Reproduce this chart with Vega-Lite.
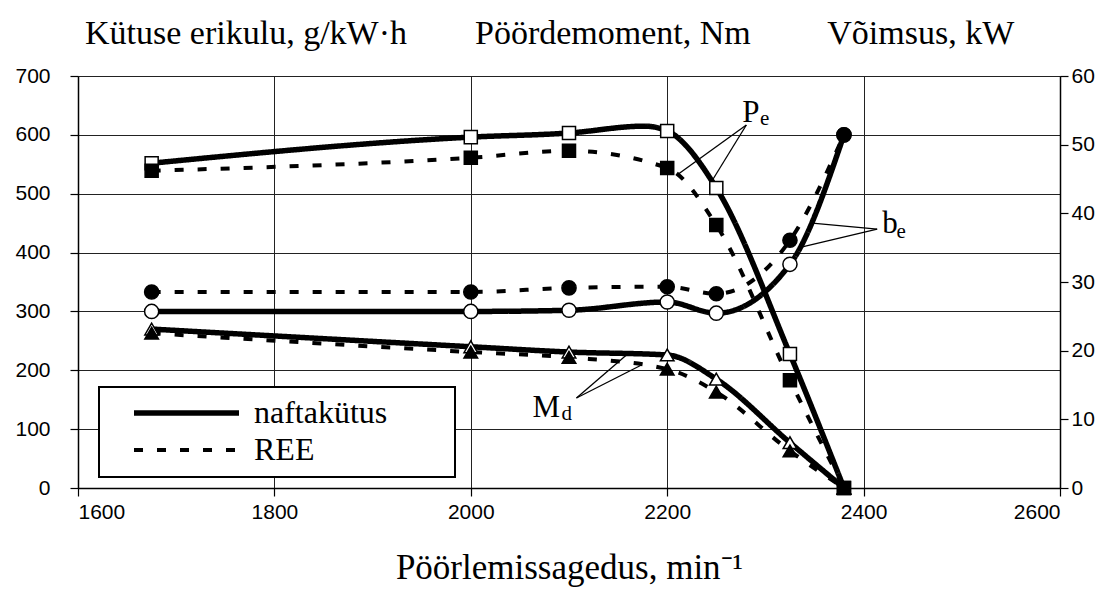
{
  "$schema": "https://vega.github.io/schema/vega-lite/v6.json",
  "width": 982,
  "height": 412,
  "autosize": {"type": "none"},
  "padding": {"left": 78, "top": 76, "right": 55, "bottom": 106},
  "background": "white",
  "config": {
    "view": {"stroke": null},
    "axis": {"domainColor": "black", "domainWidth": 1.5, "tickColor": "black", "tickWidth": 1.2, "tickSize": 8, "labelColor": "black", "labelFont": "Liberation Sans", "labelFontSize": 21, "gridColor": "#222", "gridWidth": 1, "gridOpacity": 1}
  },
  "title": {
    "text": "Kütuse erikulu, g/kW·h\u00a0\u00a0\u00a0\u00a0\u00a0\u00a0\u00a0\u00a0Pöördemoment, Nm\u00a0\u00a0\u00a0\u00a0\u00a0\u00a0\u00a0\u00a0\u00a0Võimsus, kW",
    "font": "Liberation Serif",
    "fontSize": 34,
    "fontWeight": "normal",
    "color": "black",
    "anchor": "start",
    "frame": "group",
    "dx": 7,
    "baseline": "alphabetic",
    "offset": -13
  },
  "datasets": {
    "curves": [
      {"series": "be", "fuel": "naftakütus", "x": 1675, "v": 300, "m": true},
      {"series": "be", "fuel": "naftakütus", "x": 2000, "v": 300, "m": true},
      {"series": "be", "fuel": "naftakütus", "x": 2100, "v": 302, "m": true},
      {"series": "be", "fuel": "naftakütus", "x": 2200, "v": 316, "m": true},
      {"series": "be", "fuel": "naftakütus", "x": 2250, "v": 297, "m": true},
      {"series": "be", "fuel": "naftakütus", "x": 2325, "v": 380, "m": true},
      {"series": "be", "fuel": "naftakütus", "x": 2380, "v": 600, "m": true},
      {"series": "be", "fuel": "REE", "x": 1675, "v": 333, "m": true},
      {"series": "be", "fuel": "REE", "x": 2000, "v": 333, "m": true},
      {"series": "be", "fuel": "REE", "x": 2100, "v": 340, "m": true},
      {"series": "be", "fuel": "REE", "x": 2200, "v": 342, "m": true},
      {"series": "be", "fuel": "REE", "x": 2250, "v": 330, "m": true},
      {"series": "be", "fuel": "REE", "x": 2325, "v": 421, "m": true},
      {"series": "be", "fuel": "REE", "x": 2380, "v": 600, "m": true},
      {"series": "Md", "fuel": "naftakütus", "x": 1675, "v": 270, "m": true},
      {"series": "Md", "fuel": "naftakütus", "x": 2000, "v": 240, "m": true},
      {"series": "Md", "fuel": "naftakütus", "x": 2100, "v": 231, "m": true},
      {"series": "Md", "fuel": "naftakütus", "x": 2200, "v": 226, "m": true},
      {"series": "Md", "fuel": "naftakütus", "x": 2250, "v": 185, "m": true},
      {"series": "Md", "fuel": "naftakütus", "x": 2325, "v": 77, "m": true},
      {"series": "Md", "fuel": "naftakütus", "x": 2380, "v": 0, "m": true},
      {"series": "Md", "fuel": "REE", "x": 1675, "v": 263, "m": true},
      {"series": "Md", "fuel": "REE", "x": 2000, "v": 231, "m": true},
      {"series": "Md", "fuel": "REE", "x": 2100, "v": 222, "m": true},
      {"series": "Md", "fuel": "REE", "x": 2200, "v": 202, "m": true},
      {"series": "Md", "fuel": "REE", "x": 2250, "v": 163, "m": true},
      {"series": "Md", "fuel": "REE", "x": 2325, "v": 63, "m": true},
      {"series": "Md", "fuel": "REE", "x": 2380, "v": 0, "m": true},
      {"series": "Pe", "fuel": "naftakütus", "x": 1675, "v": 47.3, "m": true},
      {"series": "Pe", "fuel": "naftakütus", "x": 2000, "v": 51.1, "m": true},
      {"series": "Pe", "fuel": "naftakütus", "x": 2100, "v": 51.7, "m": true},
      {"series": "Pe", "fuel": "naftakütus", "x": 2177, "v": 52.7, "m": false},
      {"series": "Pe", "fuel": "naftakütus", "x": 2200, "v": 52.0, "m": true},
      {"series": "Pe", "fuel": "naftakütus", "x": 2250, "v": 43.7, "m": true},
      {"series": "Pe", "fuel": "naftakütus", "x": 2325, "v": 19.5, "m": true},
      {"series": "Pe", "fuel": "naftakütus", "x": 2380, "v": 0, "m": true},
      {"series": "Pe", "fuel": "REE", "x": 1675, "v": 46.2, "m": true},
      {"series": "Pe", "fuel": "REE", "x": 2000, "v": 48.1, "m": true},
      {"series": "Pe", "fuel": "REE", "x": 2100, "v": 49.1, "m": true},
      {"series": "Pe", "fuel": "REE", "x": 2200, "v": 46.6, "m": true},
      {"series": "Pe", "fuel": "REE", "x": 2250, "v": 38.3, "m": true},
      {"series": "Pe", "fuel": "REE", "x": 2325, "v": 15.7, "m": true},
      {"series": "Pe", "fuel": "REE", "x": 2380, "v": 0, "m": true}
    ],
    "labels": [
      {"t": "P", "x": 2276.5, "v": 621.8, "fs": 31},
      {"t": "e", "x": 2294.5, "v": 616.7, "fs": 21},
      {"t": "b", "x": 2418.9, "v": 433.2, "fs": 31},
      {"t": "e", "x": 2433.5, "v": 424.7, "fs": 21},
      {"t": "M", "x": 2062.9, "v": 120.6, "fs": 31},
      {"t": "d", "x": 2092.4, "v": 115.5, "fs": 21}
    ],
    "leaders": [
      {"x": 2280.6, "v": 616.7, "x2": 2210, "v2": 531.8},
      {"x": 2280.6, "v": 616.7, "x2": 2243, "v2": 514.8},
      {"x": 2413.8, "v": 440, "x2": 2347.7, "v2": 450},
      {"x": 2413.8, "v": 440, "x2": 2336.5, "v2": 409.4},
      {"x": 2107.6, "v": 152.9, "x2": 2158.5, "v2": 226},
      {"x": 2107.6, "v": 152.9, "x2": 2173.8, "v2": 209}
    ]
  },
  "encoding": {
    "x": {
      "field": "x", "type": "quantitative",
      "scale": {"domain": [1600, 2600], "nice": false, "zero": false},
      "axis": {"values": [1600, 1800, 2000, 2200, 2400, 2600], "format": "d", "grid": true, "labelPadding": 5,
        "title": "Pöörlemissagedus, min⁻¹", "titleFont": "Liberation Serif", "titleFontSize": 35, "titleFontWeight": "normal", "titleColor": "black", "titlePadding": 28}
    }
  },
  "layer": [
    {
      "encoding": {
        "y": {"field": "v", "type": "quantitative", "scale": {"domain": [0, 700], "nice": false},
          "axis": {"values": [0, 100, 200, 300, 400, 500, 600, 700], "grid": true, "title": null, "labelPadding": 20}}
      },
      "layer": [
        {
          "data": {"name": "leaders"},
          "mark": {"type": "rule", "color": "black", "strokeWidth": 1.3},
          "encoding": {"x2": {"field": "x2"}, "y2": {"field": "v2"}}
        },
        {
          "data": {"name": "curves"},
          "transform": [{"filter": "datum.series !== 'Pe'"}],
          "mark": {"type": "line", "interpolate": "monotone", "color": "black"},
          "encoding": {
            "detail": {"field": "series"},
            "strokeDash": {"field": "fuel", "type": "nominal", "scale": {"domain": ["naftakütus", "REE"], "range": [[1, 0], [9, 14]]},
              "legend": {"orient": "none", "legendX": 21, "legendY": 311, "title": null, "fillColor": "white", "strokeColor": "black", "padding": 11,
                "symbolType": "stroke", "symbolSize": 11025, "symbolStrokeWidth": 5, "symbolStrokeColor": "black", "symbolOffset": 21, "clipHeight": 30, "rowPadding": 5,
                "labelFont": "Liberation Serif", "labelFontSize": 32, "labelColor": "black", "labelOffset": 12, "labelLimit": 400,
                "labelExpr": "datum.label + '\u00a0\u00a0\u00a0\u00a0\u00a0\u00a0\u00a0\u200b'",
                "encode": {"legend": {"update": {"strokeWidth": {"value": 2}}}, "symbols": {"update": {"strokeDash": {"signal": "datum.value === 'REE' ? [24, 20] : [1, 0]"}}}}}},
            "strokeWidth": {"field": "fuel", "type": "nominal", "scale": {"domain": ["naftakütus", "REE"], "range": [5.5, 4]}, "legend": null}
          }
        },
        {
          "data": {"name": "curves"},
          "transform": [{"filter": "datum.series !== 'Pe' && datum.m"}],
          "mark": {"type": "point", "filled": true, "stroke": "black", "strokeWidth": 1.5, "opacity": 1},
          "encoding": {
            "shape": {"field": "series", "type": "nominal", "scale": {"domain": ["be", "Md", "Pe"], "range": ["circle", "triangle-up", "square"]}, "legend": null},
            "fill": {"field": "fuel", "type": "nominal", "scale": {"domain": ["naftakütus", "REE"], "range": ["white", "black"]}, "legend": null},
            "size": {"field": "series", "type": "nominal", "scale": {"domain": ["be", "Md", "Pe"], "range": [200, 170, 225]}, "legend": null}
          }
        },
        {
          "data": {"name": "labels"},
          "mark": {"type": "text", "align": "left", "baseline": "alphabetic", "font": "Liberation Serif", "color": "black"},
          "encoding": {"text": {"field": "t"}, "size": {"field": "fs", "type": "quantitative", "scale": null}}
        }
      ]
    },
    {
      "data": {"name": "curves"},
      "encoding": {
        "y": {"field": "v", "type": "quantitative", "scale": {"domain": [0, 60], "nice": false},
          "axis": {"orient": "right", "values": [0, 10, 20, 30, 40, 50, 60], "grid": false, "title": null, "labelPadding": 3}}
      },
      "layer": [
        {
          "transform": [{"filter": "datum.series === 'Pe'"}],
          "mark": {"type": "line", "interpolate": "monotone", "color": "black"},
          "encoding": {
            "detail": {"field": "series"},
            "strokeDash": {"field": "fuel", "type": "nominal", "scale": {"domain": ["naftakütus", "REE"], "range": [[1, 0], [9, 14]]},
              "legend": {"orient": "none", "legendX": 21, "legendY": 311, "title": null, "fillColor": "white", "strokeColor": "black", "padding": 11,
                "symbolType": "stroke", "symbolSize": 11025, "symbolStrokeWidth": 5, "symbolStrokeColor": "black", "symbolOffset": 21, "clipHeight": 30, "rowPadding": 5,
                "labelFont": "Liberation Serif", "labelFontSize": 32, "labelColor": "black", "labelOffset": 12, "labelLimit": 400,
                "labelExpr": "datum.label + '\u00a0\u00a0\u00a0\u00a0\u00a0\u00a0\u00a0\u200b'",
                "encode": {"legend": {"update": {"strokeWidth": {"value": 2}}}, "symbols": {"update": {"strokeDash": {"signal": "datum.value === 'REE' ? [24, 20] : [1, 0]"}}}}}},
            "strokeWidth": {"field": "fuel", "type": "nominal", "scale": {"domain": ["naftakütus", "REE"], "range": [5.5, 4]}, "legend": null}
          }
        },
        {
          "transform": [{"filter": "datum.series === 'Pe' && datum.m"}],
          "mark": {"type": "point", "filled": true, "stroke": "black", "strokeWidth": 1.5, "opacity": 1},
          "encoding": {
            "shape": {"field": "series", "type": "nominal", "scale": {"domain": ["be", "Md", "Pe"], "range": ["circle", "triangle-up", "square"]}, "legend": null},
            "fill": {"field": "fuel", "type": "nominal", "scale": {"domain": ["naftakütus", "REE"], "range": ["white", "black"]}, "legend": null},
            "size": {"field": "series", "type": "nominal", "scale": {"domain": ["be", "Md", "Pe"], "range": [200, 170, 225]}, "legend": null}
          }
        }
      ]
    }
  ],
  "resolve": {"scale": {"y": "independent"}}
}
